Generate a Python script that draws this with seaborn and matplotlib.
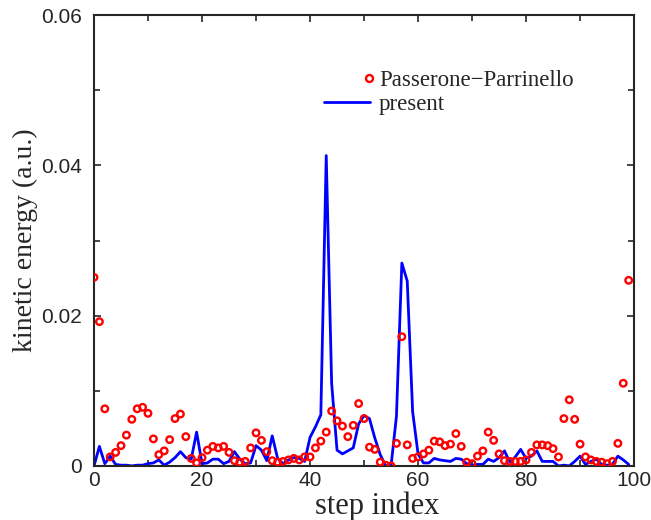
import numpy as np
import pandas as pd
import matplotlib
matplotlib.use('Agg')
import matplotlib.pyplot as plt
from matplotlib.lines import Line2D
from matplotlib.legend_handler import HandlerLine2D
from matplotlib.ticker import MultipleLocator, FuncFormatter
import seaborn as sns

# kinetic energy per step
passerone = [0.0251, 0.0192, 0.0076, 0.0012, 0.0018, 0.0027, 0.0041, 0.0062, 0.0076, 0.0078,
             0.0070, 0.0036, 0.0015, 0.0020, 0.0035, 0.0063, 0.0069, 0.0039, 0.0010, 0.0004,
             0.0011, 0.0021, 0.0026, 0.0024, 0.0026, 0.0018, 0.0007, 0.0005, 0.0006, 0.0024,
             0.0044, 0.0034, 0.0019, 0.0007, 0.0005, 0.0006, 0.0008, 0.0010, 0.0008, 0.0012,
             0.0012, 0.0024, 0.0033, 0.0045, 0.0073, 0.0060, 0.0053, 0.0039, 0.0054, 0.0083,
             0.0063, 0.0025, 0.0022, 0.0005, 0.0001, 0.0000, 0.0030, 0.0172, 0.0028, 0.0010,
             0.0012, 0.0016, 0.0021, 0.0033, 0.0032, 0.0027, 0.0029, 0.0043, 0.0026, 0.0005,
             0.0003, 0.0013, 0.0020, 0.0045, 0.0034, 0.0016, 0.0007, 0.0006, 0.0006, 0.0006,
             0.0008, 0.0018, 0.0028, 0.0028, 0.0027, 0.0023, 0.0012, 0.0063, 0.0088, 0.0062,
             0.0029, 0.0012, 0.0008, 0.0006, 0.0005, 0.0003, 0.0006, 0.0030, 0.0110, 0.0247]

present = [0.0000, 0.0026, 0.0003, 0.0013, 0.0002, 0.0001, 0.0001, 0.0000, 0.0001, 0.0001,
           0.0003, 0.0004, 0.0008, 0.0001, 0.0005, 0.0011, 0.0019, 0.0011, 0.0009, 0.0045,
           0.0003, 0.0004, 0.0009, 0.0009, 0.0003, 0.0006, 0.0019, 0.0009, 0.0003, 0.0004,
           0.0027, 0.0021, 0.0007, 0.0040, 0.0010, 0.0003, 0.0008, 0.0011, 0.0010, 0.0006,
           0.0038, 0.0052, 0.0068, 0.0413, 0.0110, 0.0021, 0.0016, 0.0020, 0.0024, 0.0056,
           0.0067, 0.0063, 0.0037, 0.0015, 0.0000, 0.0000, 0.0066, 0.0270, 0.0246, 0.0072,
           0.0016, 0.0004, 0.0004, 0.0010, 0.0008, 0.0007, 0.0006, 0.0010, 0.0009, 0.0003,
           0.0001, 0.0002, 0.0002, 0.0009, 0.0006, 0.0011, 0.0020, 0.0005, 0.0012, 0.0022,
           0.0010, 0.0013, 0.0020, 0.0006, 0.0006, 0.0006, 0.0000, 0.0001, 0.0000, 0.0006,
           0.0013, 0.0002, 0.0006, 0.0009, 0.0002, 0.0001, 0.0002, 0.0013, 0.0008, 0.0002]

steps = np.arange(len(present))
df = pd.DataFrame({'step': steps, 'pp': passerone, 'present': present})

sns.set_style('ticks')
plt.rcParams['font.family'] = ['Liberation Sans', 'DejaVu Sans']
plt.rcParams['xtick.direction'] = 'in'
plt.rcParams['ytick.direction'] = 'in'


# gnuplot-like legend: marker sits at the right end of the handle
class RightMarker(HandlerLine2D):
    def get_xdata(self, legend, xdescent, ydescent, width, height, fontsize):
        end = -xdescent + width
        return np.array([end - 2, end]), np.array([end - 1])


fig = plt.figure(figsize=(6.51, 5.2), dpi=100)
ax = fig.add_axes([0.1444, 0.104, 0.8296, 0.867])

sns.lineplot(data=df, x='step', y='present', color='blue', linewidth=2.0, ax=ax)
sns.scatterplot(data=df, x='step', y='pp', marker='o', s=22, facecolors='none',
                edgecolors='red', linewidths=1.7, ax=ax, zorder=3)

ax.set_xlim(0, 100)
ax.set_ylim(0, 0.06)
ax.xaxis.set_major_locator(MultipleLocator(20))
ax.xaxis.set_minor_locator(MultipleLocator(10))
ax.yaxis.set_major_locator(MultipleLocator(0.02))
ax.yaxis.set_minor_locator(MultipleLocator(0.01))
ax.yaxis.set_major_formatter(FuncFormatter(lambda v, p: '{:g}'.format(round(v, 4))))
ax.tick_params(which='both', top=True, right=True, width=1.2, labelsize=15)
ax.tick_params(which='major', length=5)
ax.tick_params(which='minor', length=4)
ax.tick_params(axis='x', pad=4)
ax.tick_params(axis='y', pad=9)
for sp in ax.spines.values():
    sp.set_linewidth(1.5)
    sp.set_visible(True)

ax.set_xlabel('step index', family='Liberation Serif', fontsize=22)
ax.xaxis.set_label_coords(0.525, -0.056)
ax.set_ylabel('kinetic energy (a.u.)', family='Liberation Serif', fontsize=20, labelpad=2)

h_pp = Line2D([], [], ls='none', marker='o', ms=5, mfc='none', mec='red', mew=1.7)
h_pr = Line2D([], [], color='blue', lw=2.0)
ax.legend([h_pp, h_pr], ['Passerone\u2212Parrinello', 'present'],
          handler_map={h_pp: RightMarker()}, frameon=False,
          prop={'family': 'Liberation Serif', 'size': 16.5},
          loc='upper left', bbox_to_anchor=(0.409, 0.899), handlelength=2.0,
          handletextpad=0.4, labelspacing=0.15, borderaxespad=0)

fig.savefig('out.png', dpi=100)
